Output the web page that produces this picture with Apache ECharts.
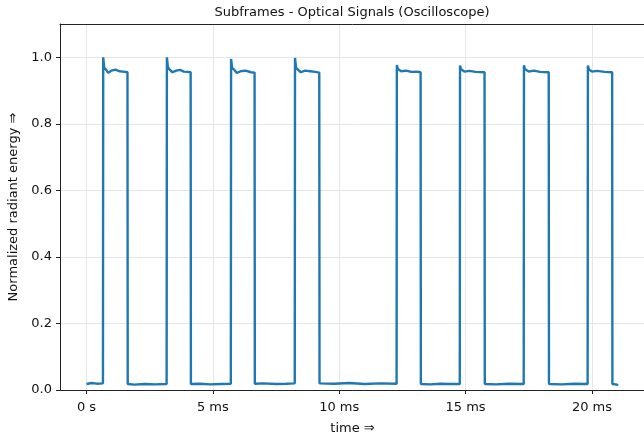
<!DOCTYPE html>
<html>
<head>
<meta charset="utf-8">
<script src="https://cdn.jsdelivr.net/npm/echarts@6/dist/echarts.min.js"></script>
<style>
html,body{margin:0;padding:0;background:#fff;}
#chart{width:644px;height:432px;}
</style>
</head>
<body>
<div id="chart"></div>
<script>
// time in ms
const timeMs = [
  0, 0.2, 0.4, 0.65,
  0.66, 0.7, 0.78, 0.86, 0.98, 1.15, 1.3, 1.45, 1.62,
  1.63, 1.9, 2.3, 2.7, 3.17,
  3.18, 3.22, 3.3, 3.4, 3.55, 3.7, 3.85, 4.0, 4.12,
  4.13, 4.5, 4.9, 5.3, 5.71,
  5.72, 5.76, 5.85, 5.95, 6.1, 6.3, 6.5, 6.65,
  6.66, 7.0, 7.5, 7.9, 8.24,
  8.25, 8.29, 8.38, 8.48, 8.65, 8.85, 9.05, 9.21,
  9.22, 9.8, 10.4, 11.0, 11.6, 12.27,
  12.28, 12.32, 12.45, 12.65, 12.85, 13.05, 13.22,
  13.23, 13.6, 14.0, 14.4, 14.77,
  14.78, 14.82, 14.95, 15.15, 15.4, 15.75,
  15.76, 16.2, 16.7, 17.3,
  17.31, 17.35, 17.5, 17.7, 17.95, 18.29,
  18.3, 18.8, 19.3, 19.83,
  19.84, 19.88, 20.0, 20.2, 20.5, 20.8,
  20.81, 21.0, 21.02
];
// normalized radiant energy
const energy = [
  0.018, 0.021, 0.019, 0.020,
  1.000, 0.968, 0.962, 0.953, 0.960, 0.963, 0.958, 0.957, 0.955,
  0.018, 0.016, 0.018, 0.017, 0.018,
  1.000, 0.970, 0.962, 0.955, 0.960, 0.962, 0.957, 0.956, 0.955,
  0.018, 0.019, 0.017, 0.018, 0.019,
  0.995, 0.968, 0.962, 0.953, 0.958, 0.960, 0.955, 0.954,
  0.019, 0.020, 0.018, 0.019, 0.020,
  0.998, 0.968, 0.962, 0.955, 0.960, 0.958, 0.956, 0.954,
  0.020, 0.019, 0.021, 0.018, 0.020, 0.019,
  0.977, 0.965, 0.958, 0.960, 0.956, 0.957, 0.955,
  0.018, 0.017, 0.019, 0.018, 0.018,
  0.975, 0.964, 0.957, 0.959, 0.956, 0.955,
  0.018, 0.017, 0.019, 0.018,
  0.976, 0.964, 0.957, 0.960, 0.956, 0.955,
  0.018, 0.017, 0.019, 0.018,
  0.975, 0.963, 0.957, 0.959, 0.956, 0.955,
  0.018, 0.016, 0.013
];
const xTickValues = [0, 5, 10, 15, 20];
const xTickLabels = ['0 s', '5 ms', '10 ms', '15 ms', '20 ms'];
const yTickValues = [0, 0.2, 0.4, 0.6, 0.8, 1.0];
const yTickLabels = ['0.0', '0.2', '0.4', '0.6', '0.8', '1.0'];

const seriesData = timeMs.map((t, i) => [t, energy[i]]);
const font = 'DejaVu Sans';
const spine = {show: true, onZero: false, lineStyle: {color: '#222', width: 1}};
const chart = echarts.init(document.getElementById('chart'), null, {renderer: 'canvas'});
chart.setOption({
  animation: false,
  backgroundColor: '#fff',
  title: {
    text: 'Subframes - Optical Signals (Oscilloscope)',
    left: 352, top: 6, textAlign: 'center', padding: 0,
    textStyle: {fontFamily: font, fontSize: 13, fontWeight: 'normal', color: '#111'}
  },
  grid: {left: 60, top: 24, width: 585, bottom: 42, show: false,
         containLabel: false, outerBoundsMode: 'none'},
  xAxis: [{
    type: 'value', min: -1.05, max: 22.1, position: 'bottom',
    name: 'time ⇒', nameLocation: 'middle', nameGap: 32,
    nameTextStyle: {fontFamily: font, fontSize: 13, color: '#111'},
    axisLine: spine,
    axisTick: {show: true, inside: false, length: 4, customValues: xTickValues, lineStyle: {color: '#222'}},
    axisLabel: {
      customValues: xTickValues, margin: 11,
      fontFamily: font, fontSize: 13, color: '#111',
      formatter: v => { const i = xTickValues.indexOf(Math.round(v * 1000) / 1000); return i >= 0 ? xTickLabels[i] : ''; }
    },
    splitLine: {show: true, lineStyle: {color: '#e6e6e6', width: 1}}
  }, {
    type: 'value', min: -1.05, max: 22.1, position: 'top',
    axisLine: spine, axisTick: {show: false}, axisLabel: {show: false}, splitLine: {show: false}
  }],
  yAxis: {
    type: 'value', min: 0, max: 1.1,
    name: 'Normalized radiant energy ⇒', nameLocation: 'middle', nameGap: 35,
    nameTextStyle: {fontFamily: font, fontSize: 13, color: '#111'},
    axisLine: spine,
    axisTick: {show: true, inside: false, length: 4, customValues: yTickValues, lineStyle: {color: '#222'}},
    axisLabel: {
      customValues: yTickValues, margin: 8,
      fontFamily: font, fontSize: 13, color: '#111',
      formatter: v => { const i = yTickValues.findIndex(x => Math.abs(x - v) < 1e-6); return i >= 0 ? yTickLabels[i] : ''; }
    },
    splitLine: {show: true, lineStyle: {color: '#e6e6e6', width: 1}}
  },
  series: [{
    type: 'line',
    xAxisIndex: 0,
    data: seriesData,
    showSymbol: false,
    symbol: 'none',
    lineStyle: {color: '#1f77b4', width: 2.4},
    itemStyle: {color: '#1f77b4'}
  }]
});
</script>
</body>
</html>
